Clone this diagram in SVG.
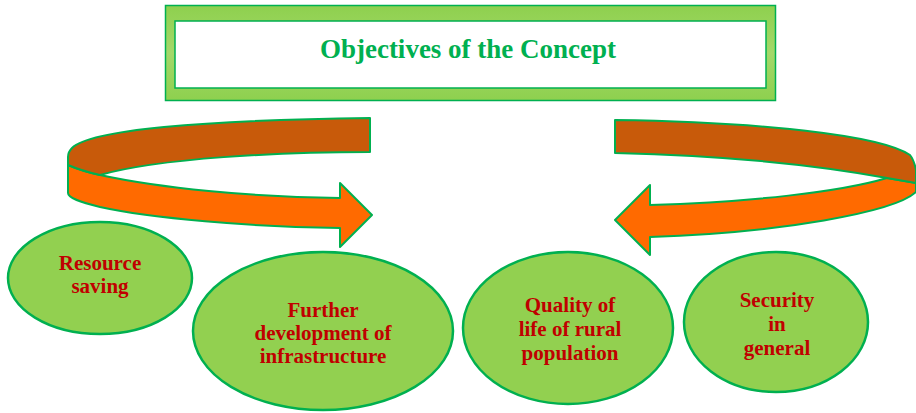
<svg xmlns="http://www.w3.org/2000/svg" width="916" height="413" viewBox="0 0 916 413">
<defs>
<style>
.node ellipse{fill:#92D050;stroke:#00B050;stroke-width:2.5}
.lbl{font-family:"Liberation Serif","Times New Roman",serif;font-weight:bold;font-size:21px;fill:#C00000;text-anchor:middle}
.dark{fill:#C85A0A;stroke:#00B050;stroke-width:2;stroke-linejoin:round}
.light{fill:#FF6A00;stroke:#00B050;stroke-width:2;stroke-linejoin:round}
</style>
<linearGradient id="frameGlow" x1="0" y1="0" x2="0" y2="1">
<stop offset="0" stop-color="#8ED04E"/>
<stop offset="0.5" stop-color="#A4D86A"/>
<stop offset="1" stop-color="#8ED04E"/>
</linearGradient>
</defs>
<rect width="916" height="413" fill="#fff"/>
<g id="title">
<rect x="165.5" y="5.5" width="610" height="95" fill="url(#frameGlow)" stroke="#00B050" stroke-width="1.5"/>
<rect x="175" y="21" width="591" height="67" fill="#fff" stroke="#00B050" stroke-width="1.5"/>
<text x="468" y="58" font-family="'Liberation Serif','Times New Roman',serif" font-weight="bold" font-size="27" fill="#00B050" text-anchor="middle">Objectives of the Concept</text>
</g>
<g id="connectors">
<g id="arrow-left">
<path class="light" d="M68,165 Q82,171 100,175 C160,188 250,197 340,198 L340,183 L372,215 L340,247 L340,228 C250,227 150,218 100,207 C80,202 68,198 68,193 Z"/>
<path class="dark" d="M370,118 L370,152 C280,152 160,158 100,175 Q82,171 68,165 L68,157 Q68,152 72,148 C90,130 200,120 370,118 Z"/>
</g>
<g id="arrow-right">
<path class="light" d="M887,178 L916,183 L916,192 C895,212 780,233 650,237 L650,255 L615,220 L650,185 L650,205 C750,202 840,192 887,178 Z"/>
<path class="dark" d="M615,120 L615,153 C700,155 800,162 887,178 L916,183 L916,170 Q914,160 910,155 C880,135 760,122 615,120 Z"/>
</g>
</g>
<g id="node-resource" class="node">
<ellipse cx="100" cy="278" rx="92" ry="56"/>
<text class="lbl" x="100" y="270">Resource</text>
<text class="lbl" x="100" y="293">saving</text>
</g>
<g id="node-infrastructure" class="node">
<ellipse cx="323" cy="331" rx="130" ry="79"/>
<text class="lbl" x="323" y="317">Further</text>
<text class="lbl" x="323" y="340">development of</text>
<text class="lbl" x="323" y="363">infrastructure</text>
</g>
<g id="node-quality" class="node">
<ellipse cx="568" cy="328" rx="105" ry="76"/>
<text class="lbl" x="570" y="312">Quality of</text>
<text class="lbl" x="570" y="336">life of rural</text>
<text class="lbl" x="570" y="360">population</text>
</g>
<g id="node-security" class="node">
<ellipse cx="776" cy="322" rx="92" ry="70"/>
<text class="lbl" x="777" y="307">Security</text>
<text class="lbl" x="777" y="331">in</text>
<text class="lbl" x="777" y="355">general</text>
</g>
</svg>
